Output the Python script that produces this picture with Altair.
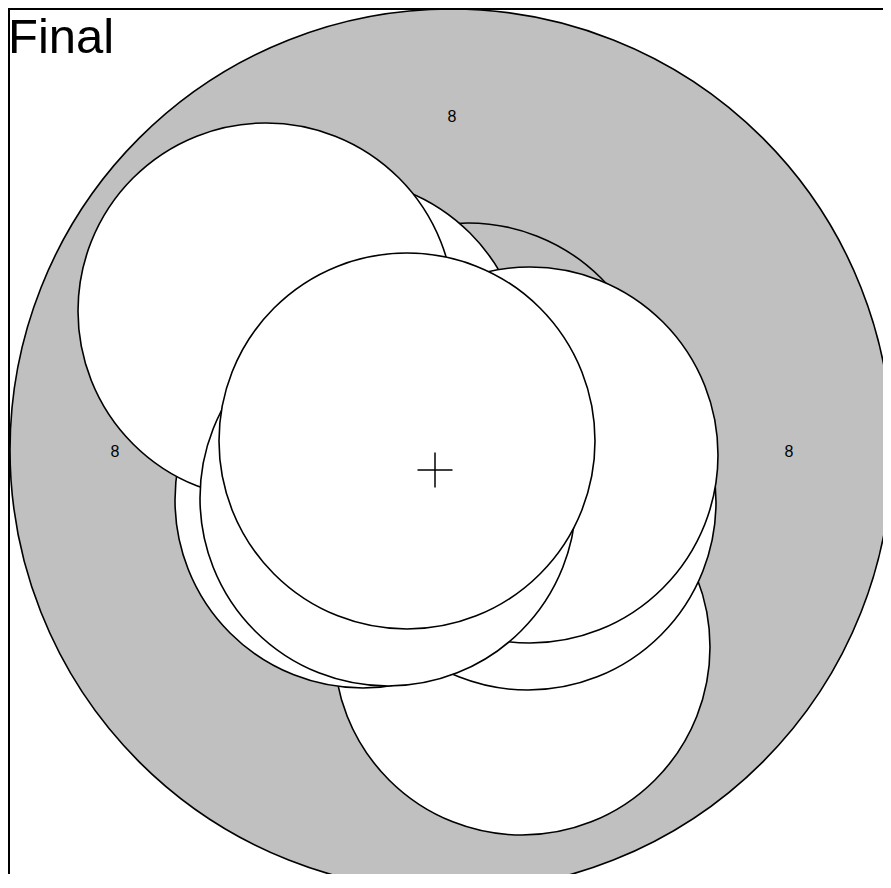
import altair as alt
import pandas as pd

# Circles, in drawing order (back to front); units = reference pixels
circle_ids = ["outer", "g", "a", "d", "r2", "r", "l1", "c1", "l2", "f"]
circle_cx = [451, 468, 337, 522, 528, 530, 363, 266, 388, 407]
circle_cy = [450, 411, 366, 647, 502, 455, 500, 311, 498, 441]
circle_r = [441, 188, 188, 188, 188, 188, 188, 188, 188, 188]
circle_fill = ["#c0c0c0", "#c0c0c0", "white", "white", "white",
               "white", "white", "white", "white", "white"]

# Labels
label_text = ["8", "8", "8"]
label_x = [452, 115, 789]
label_y = [117, 452, 452]

# Centre marker
marker_x = [435]
marker_y = [470]

# Title
title_text = ["Final"]
title_x = [8]
title_y = [53]

W, H = 875, 866
X0, Y0 = 8, 8

circles = pd.DataFrame({
    "id": circle_ids,
    "cx": circle_cx,
    "cy": circle_cy,
    # Vega circle symbol: radius = sqrt(size) / 2
    "area": [(2 * r) ** 2 for r in circle_r],
    "fill": circle_fill,
    "draw": list(range(len(circle_ids))),
})
labels = pd.DataFrame({"t": label_text, "x": label_x, "y": label_y})
marker = pd.DataFrame({"x": marker_x, "y": marker_y})
title = pd.DataFrame({"t": title_text, "x": title_x, "y": title_y})

xs = alt.Scale(domain=[X0, X0 + W], nice=False, zero=False)
ys = alt.Scale(domain=[Y0, Y0 + H], nice=False, zero=False, reverse=True)

circ = alt.Chart(circles).mark_circle(
    opacity=1, stroke="black", strokeWidth=1.6
).encode(
    x=alt.X("cx:Q", scale=xs, axis=None),
    y=alt.Y("cy:Q", scale=ys, axis=None),
    size=alt.Size("area:Q", scale=None, legend=None),
    fill=alt.Fill("fill:N", scale=None, legend=None),
    order=alt.Order("draw:Q"),
)

lab = alt.Chart(labels).mark_text(
    fontSize=16, font="Liberation Sans", color="black", baseline="middle", align="center"
).encode(
    x=alt.X("x:Q", scale=xs, axis=None),
    y=alt.Y("y:Q", scale=ys, axis=None),
    text="t:N",
)

plus = alt.Chart(marker).mark_point(
    shape="M-1,0L1,0M0,-1L0,1", size=1225, color="black", strokeWidth=1.5,
    filled=False, opacity=1,
).encode(
    x=alt.X("x:Q", scale=xs, axis=None),
    y=alt.Y("y:Q", scale=ys, axis=None),
)

ttl = alt.Chart(title).mark_text(
    fontSize=49, font="Liberation Sans", color="black", align="left", baseline="alphabetic"
).encode(
    x=alt.X("x:Q", scale=xs, axis=None),
    y=alt.Y("y:Q", scale=ys, axis=None),
    text="t:N",
)

frame_top = alt.Chart(title).mark_rule(color="black", strokeWidth=2).encode(
    x=alt.value(0), x2=alt.value(W), y=alt.value(1)
)
frame_left = alt.Chart(title).mark_rule(color="black", strokeWidth=2).encode(
    x=alt.value(1), y=alt.value(0), y2=alt.value(H)
)

chart = alt.layer(circ, lab, plus, ttl, frame_top, frame_left).properties(
    width=W, height=H, padding=0,
    autosize=alt.AutoSizeParams(type="none"),
    background="white",
).configure_view(stroke=None)

chart.save("out.html", embed_options={"renderer": "svg", "actions": False})
